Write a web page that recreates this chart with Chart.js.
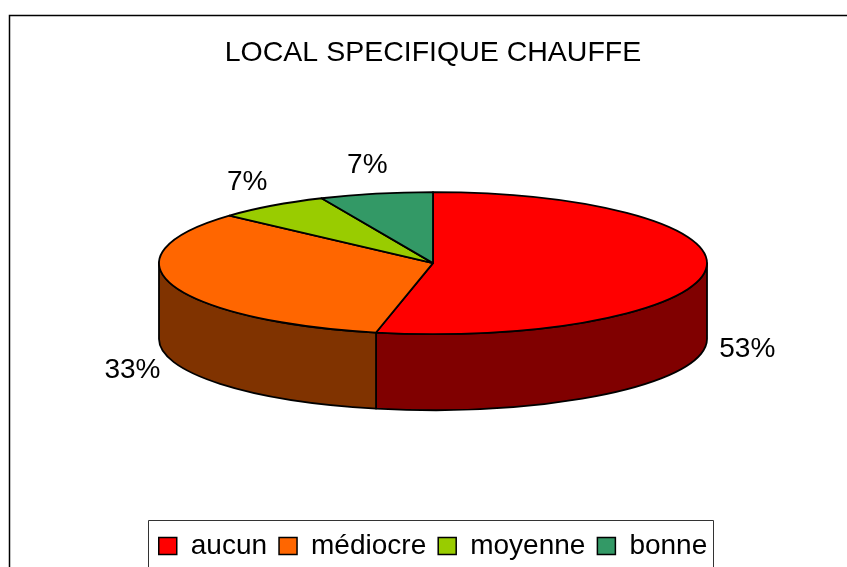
<!DOCTYPE html>
<html>
<head>
<meta charset="utf-8">
<script src="https://cdn.jsdelivr.net/npm/chart.js@4"></script>
<style>
  html, body { margin: 0; padding: 0; background: #fff; }
  #wrap { width: 847px; height: 567px; }
</style>
</head>
<body>
<div id="wrap"><canvas id="chart" width="847" height="567"></canvas></div>
<script>
// Data (15 answers -> 53% / 33% / 7% / 7%)
const categories = ['aucun', 'médiocre', 'moyenne', 'bonne'];
const counts = [8, 5, 1, 1];
const chartTitle = 'LOCAL SPECIFIQUE CHAUFFE';

// colours of the top faces and of the side walls
const topColors = ['#FF0000', '#FF6600', '#99CC00', '#339966'];
const sideColors = ['#800000', '#803300', '#4D6600', '#1A4D33'];

// 3D ellipse geometry
const RX = 274, RY = 71, DEPTH = 76;

Chart.defaults.font.family = '"Liberation Sans", Arial, sans-serif';
Chart.defaults.color = '#000';

// Draws the pie as a tilted 3D disc using the arcs Chart.js computed
const pie3d = {
    id: 'pie3d',
    afterLayout(chart) {
        // legend sits a little lower in the original
        chart.legend.top += 3;
        chart.legend.bottom += 3;
    },
    beforeDatasetsDraw(chart) {
        const ctx = chart.ctx;
        const arcs = chart.getDatasetMeta(0).data;
        if (!arcs.length) return false;
        const cx = arcs[0].x;
        const cy = arcs[0].y - DEPTH / 2;
        ctx.save();
        ctx.lineWidth = 1.8;
        ctx.lineJoin = 'round';
        ctx.strokeStyle = '#000';

        // side walls (only the front half is visible)
        arcs.forEach((arc, i) => {
            const s = Math.max(arc.startAngle, 0);
            const e = Math.min(arc.endAngle, Math.PI);
            if (s >= e) return;
            ctx.beginPath();
            ctx.ellipse(cx, cy, RX, RY, 0, s, e, false);
            ctx.lineTo(cx + RX * Math.cos(e), cy + RY * Math.sin(e) + DEPTH);
            ctx.ellipse(cx, cy + DEPTH, RX, RY, 0, e, s, true);
            ctx.closePath();
            ctx.fillStyle = sideColors[i];
            ctx.fill();
            ctx.stroke();
        });

        // top faces
        arcs.forEach((arc, i) => {
            ctx.beginPath();
            ctx.moveTo(cx, cy);
            ctx.ellipse(cx, cy, RX, RY, 0, arc.startAngle, arc.endAngle, false);
            ctx.closePath();
            ctx.fillStyle = topColors[i];
            ctx.fill();
            ctx.stroke();
        });

        // percentage labels
        const total = counts.reduce((a, b) => a + b, 0);
        ctx.font = '28px "Liberation Sans", Arial, sans-serif';
        ctx.fillStyle = '#000';
        ctx.textAlign = 'center';
        ctx.textBaseline = 'middle';
        arcs.forEach((arc, i) => {
            const mid = (arc.startAngle + arc.endAngle) / 2;
            const x = cx + (RX + 42) * Math.cos(mid);
            let y = cy + (RY + 29) * Math.sin(mid);
            if (Math.sin(mid) > 0) y += DEPTH;
            ctx.fillText(Math.round(counts[i] / total * 100) + '%', x, y);
        });
        ctx.restore();
        return false;
    },
    afterDraw(chart) {
        const ctx = chart.ctx;
        ctx.save();
        ctx.strokeStyle = '#000';
        ctx.lineWidth = 1.5;
        // outer frame (top and left edges)
        ctx.beginPath();
        ctx.moveTo(847, 15.5);
        ctx.lineTo(9.5, 15.5);
        ctx.lineTo(9.5, 567);
        ctx.stroke();
        // box around the legend
        const boxes = chart.legend.legendHitBoxes;
        if (boxes && boxes.length) {
            const first = boxes[0], last = boxes[boxes.length - 1];
            const left = Math.round(first.left - 11) + 0.5;
            const right = Math.round(last.left + last.width + 6) + 0.5;
            const top = Math.round(first.top - 12) + 0.5;
            ctx.lineWidth = 1;
            ctx.strokeStyle = '#333';
            ctx.beginPath();
            ctx.moveTo(left, 567);
            ctx.lineTo(left, top);
            ctx.lineTo(right, top);
            ctx.lineTo(right, 567);
            ctx.stroke();
        }
        ctx.restore();
    }
};

new Chart(document.getElementById('chart'), {
    type: 'pie',
    data: {
        labels: categories,
        datasets: [{
            data: counts,
            backgroundColor: topColors,
            borderColor: '#000',
            borderWidth: 1.5
        }]
    },
    options: {
        responsive: false,
        animation: false,
        layout: { padding: { top: 15, left: 19, right: 0, bottom: 0 } },
        plugins: {
            title: {
                display: true,
                text: chartTitle,
                color: '#000',
                font: { size: 28.5, weight: 'normal' },
                padding: { top: 21, bottom: 15 }
            },
            legend: {
                position: 'bottom',
                labels: {
                    color: '#000',
                    font: { size: 28 },
                    boxWidth: 18,
                    boxHeight: 17,
                    padding: 12
                }
            },
            tooltip: { enabled: false }
        }
    },
    plugins: [pie3d]
});
</script>
</body>
</html>
